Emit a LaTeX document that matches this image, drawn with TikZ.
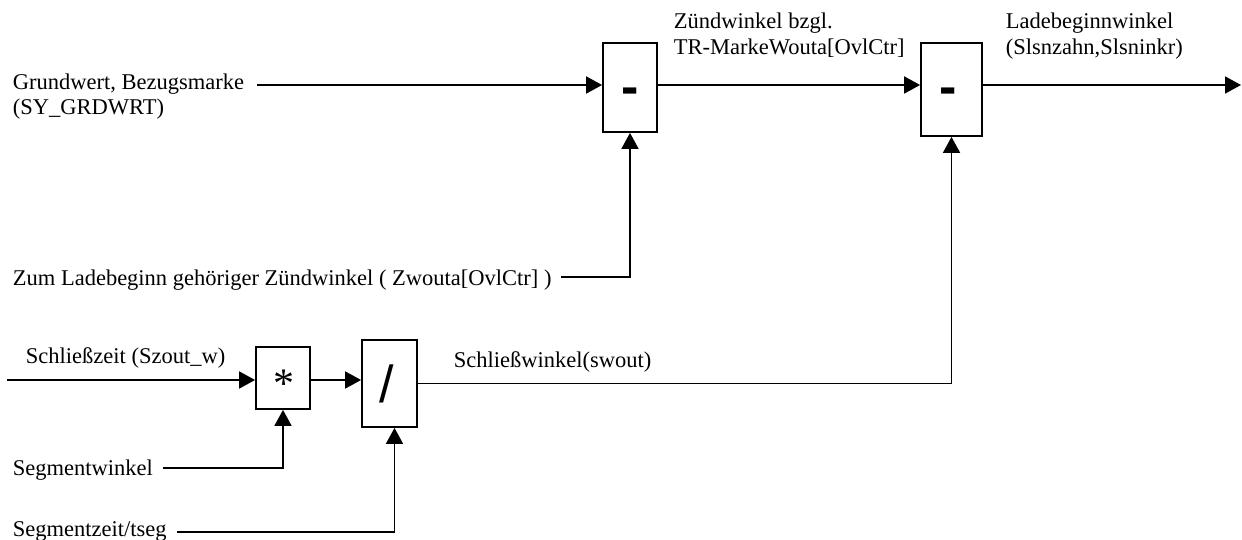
\documentclass[tikz,border=0pt]{standalone}
\usepackage{fontspec}
\setmainfont{Liberation Serif}
\newfontfamily\symfont{Liberation Sans}
\usetikzlibrary{arrows.meta}
\begin{document}
\begin{tikzpicture}[x=1pt,y=-1pt,
  font=\fontsize{22.5}{25}\selectfont,
  line width=1.8pt,
  arr/.style={-{Triangle[length=16pt,width=17pt]}},
  blk/.style={draw,line width=1.8pt,inner sep=0pt},
  lbl/.style={inner sep=0pt,anchor=base west},
  sym/.style={inner sep=0pt,anchor=base}]
\useasboundingbox (0,0) rectangle (1242,540);

% blocks
\node[blk,minimum width=54pt,minimum height=89pt] (b1) at (630,87.5) {};
\node[blk,minimum width=61pt,minimum height=93pt] (b2) at (951.5,89.5) {};
\node[blk,minimum width=54pt,minimum height=62pt] (bm) at (283,378) {};
\node[blk,minimum width=55pt,minimum height=87pt] (bd) at (389.5,383.5) {};

% operator symbols
\node[sym] (m1) at (630,105) {\symfont\bfseries\fontsize{52}{52}\selectfont -};
\node[sym] (m2) at (948,105) {\symfont\bfseries\fontsize{52}{52}\selectfont -};
\node[sym] (mul) at (284,397) {\fontsize{42}{42}\selectfont *};
\node[sym] (dv) at (387,402) {\symfont\fontsize{52}{52}\selectfont /};

% labels
\node[lbl] (g1) at (12,90) {Grundwert, Bezugsmarke};
\node[lbl] (g2) at (12,115) {(SY\_GRDWRT)};
\node[lbl] (zw1) at (673,29) {Zündwinkel bzgl.};
\node[lbl] (zw2) at (673,55) {TR-MarkeWouta[OvlCtr]};
\node[lbl] (lb1) at (1005,29) {Ladebeginnwinkel};
\node[lbl] (lb2) at (1005,55) {(Slsnzahn,Slsninkr)};
\node[lbl] (zum) at (12,285) {Zum Ladebeginn gehöriger Zündwinkel ( Zwouta[OvlCtr] )};
\node[lbl] (sz) at (25,363) {Schließzeit (Szout\_w)};
\node[lbl] (sw) at (453,367) {Schließwinkel(swout)};
\node[lbl] (sgw) at (12,475) {Segmentwinkel};
\node[lbl] (sgz) at (12,536) {Segmentzeit/tseg};

% connector end points
\coordinate (g0) at (257,85);
\coordinate (o1) at (1241,85);
\coordinate (z0) at (561,277);
\coordinate (s0) at (7,380);
\coordinate (w0) at (163,468);
\coordinate (t0) at (177,532);

% connectors
\draw[arr] (g0) -- (g0 -| b1.west);
\draw[arr] (b1.east |- g0) -- (b2.west |- g0);
\draw[arr] (b2.east |- g0) -- (o1);
\draw[arr] (z0) -| (b1.south);
\draw[arr] (s0) -- (s0 -| bm.west);
\draw[arr] (bm.east |- s0) -- (bd.west |- s0);
\draw[arr] (w0) -| (bm.south);
\draw[arr] (t0) -| ([xshift=5pt]bd.south);
\draw[arr] (bd.east) -| (b2.south);
\end{tikzpicture}
\end{document}
